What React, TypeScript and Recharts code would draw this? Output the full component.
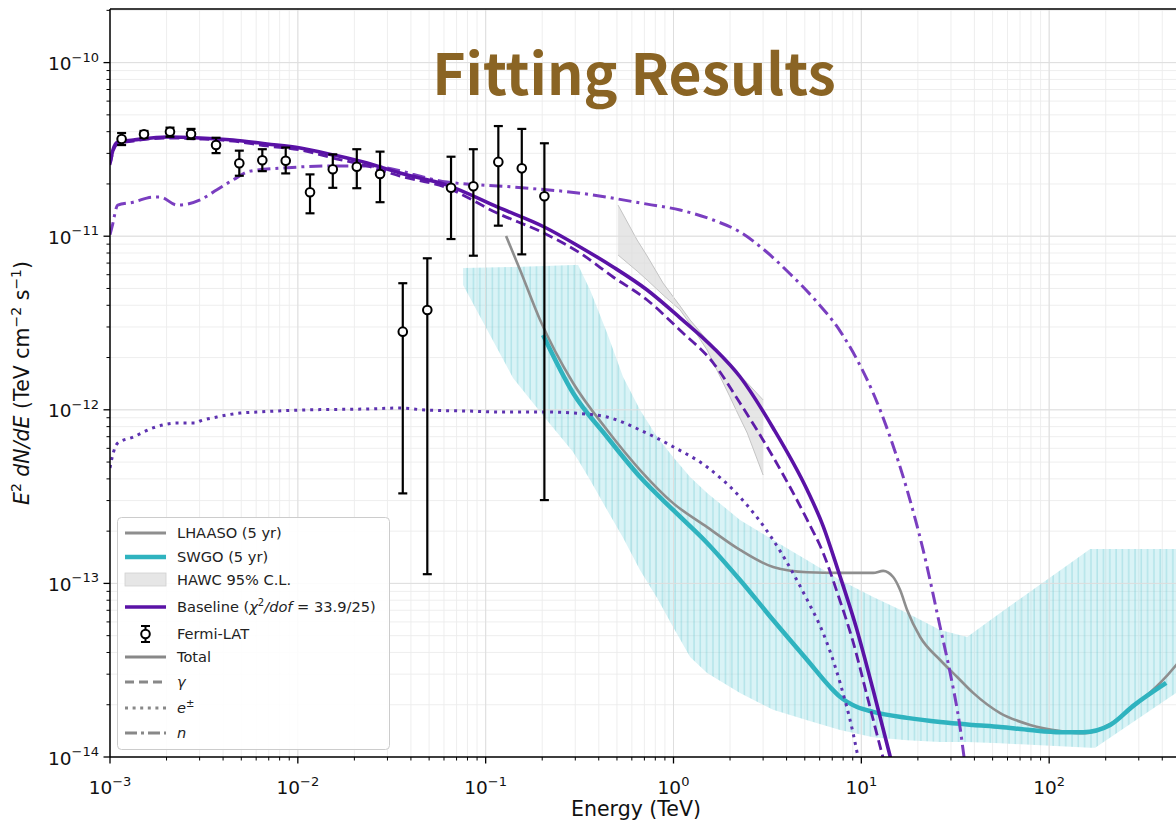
import React from 'react';
import {
  ComposedChart, Line, Area, Scatter, ErrorBar, XAxis, YAxis, CartesianGrid, ReferenceLine,
} from 'recharts';

// ---------- axis ranges ----------
const X_MIN = 1e-3;
const X_MAX = 1e3;
const Y_MIN = 1e-14;
const Y_MAX = 2.036e-10;

// ---------- Fermi-LAT points ----------
const fermiE = [1.153e-3, 1.517e-3, 2.086e-3, 2.70e-3, 3.67e-3, 4.88e-3, 6.47e-3, 8.62e-3, 1.161e-2, 1.535e-2, 2.06e-2, 2.74e-2, 3.62e-2, 4.89e-2, 6.54e-2, 8.60e-2, 0.1168, 0.1557, 0.2054];
const fermiF = [3.63e-11, 3.86e-11, 4.00e-11, 3.88e-11, 3.35e-11, 2.63e-11, 2.74e-11, 2.72e-11, 1.79e-11, 2.43e-11, 2.51e-11, 2.28e-11, 2.82e-12, 3.76e-12, 1.90e-11, 1.94e-11, 2.68e-11, 2.46e-11, 1.70e-11];
const fermiLo = [3.35e-11, 3.68e-11, 3.74e-11, 3.63e-11, 3.01e-11, 2.23e-11, 2.37e-11, 2.30e-11, 1.355e-11, 1.90e-11, 1.89e-11, 1.57e-11, 3.30e-13, 1.13e-13, 9.63e-12, 7.72e-12, 1.15e-11, 7.86e-12, 3.02e-13];
const fermiHi = [3.93e-11, 4.04e-11, 4.22e-11, 4.15e-11, 3.69e-11, 3.11e-11, 3.17e-11, 3.24e-11, 2.27e-11, 2.96e-11, 3.17e-11, 3.07e-11, 5.36e-12, 7.46e-12, 2.87e-11, 3.17e-11, 4.31e-11, 4.15e-11, 3.43e-11];

// ---------- Baseline model: Total ----------
const totalE = [1.0e-3, 1.037e-3, 1.10e-3, 1.33e-3, 2.01e-3, 3.02e-3, 4.52e-3, 6.85e-3, 1.03e-2, 1.54e-2, 2.34e-2, 3.50e-2, 6.23e-2, 0.116, 0.205, 0.318, 0.477, 0.724, 1.08, 1.63, 2.26, 3.39, 5.15, 6.26, 7.52, 9.38, 11.56, 14.23, 15.5];
const totalF = [2.64e-11, 3.14e-11, 3.49e-11, 3.58e-11, 3.73e-11, 3.68e-11, 3.58e-11, 3.40e-11, 3.22e-11, 2.94e-11, 2.64e-11, 2.31e-11, 1.97e-11, 1.47e-11, 1.13e-11, 8.67e-12, 6.65e-12, 4.90e-12, 3.40e-12, 2.28e-12, 1.55e-12, 7.86e-13, 3.45e-13, 2.14e-13, 1.19e-13, 5.61e-14, 2.43e-14, 1.01e-14, 7.0e-15];

// ---------- gamma ----------
const gammaE = [1.0e-3, 1.037e-3, 1.10e-3, 1.33e-3, 2.01e-3, 3.02e-3, 4.52e-3, 6.85e-3, 1.03e-2, 1.54e-2, 2.34e-2, 3.50e-2, 6.23e-2, 0.115, 0.205, 0.318, 0.477, 0.724, 1.08, 1.63, 2.26, 3.39, 5.15, 6.26, 7.52, 9.04, 10.87, 13.06, 14.5];
const gammaF = [2.57e-11, 3.05e-11, 3.40e-11, 3.53e-11, 3.68e-11, 3.63e-11, 3.53e-11, 3.31e-11, 3.14e-11, 2.82e-11, 2.54e-11, 2.22e-11, 1.90e-11, 1.36e-11, 1.04e-11, 8.00e-12, 5.82e-12, 4.29e-12, 2.88e-12, 1.86e-12, 1.094e-12, 5.35e-13, 2.32e-13, 1.50e-13, 8.57e-14, 4.60e-14, 2.13e-14, 9.87e-15, 6.5e-15];

// ---------- e+- ----------
const elecE = [1.0e-3, 1.025e-3, 1.10e-3, 1.33e-3, 1.69e-3, 2.28e-3, 2.84e-3, 3.02e-3, 3.71e-3, 4.92e-3, 6.06e-3, 1.03e-2, 2.34e-2, 3.50e-2, 4.76e-2, 7.96e-2, 0.119, 0.207, 0.292, 0.443, 0.664, 0.995, 1.51, 2.26, 3.39, 5.15, 6.26, 7.71, 9.04, 9.62, 10.1];
const elecF = [4.62e-13, 5.28e-13, 6.44e-13, 6.97e-13, 7.86e-13, 8.39e-13, 8.39e-13, 8.62e-13, 9.09e-13, 9.58e-13, 9.71e-13, 9.97e-13, 1.011e-12, 1.024e-12, 9.97e-13, 9.84e-13, 9.71e-13, 9.71e-13, 9.58e-13, 9.09e-13, 7.65e-13, 6.13e-13, 4.68e-13, 3.14e-13, 1.78e-13, 8.03e-14, 5.18e-14, 2.67e-14, 1.37e-14, 9.87e-15, 7.5e-15];

// ---------- n ----------
const neutE = [1.0e-3, 1.025e-3, 1.10e-3, 1.33e-3, 1.69e-3, 1.85e-3, 2.28e-3, 3.02e-3, 3.71e-3, 4.52e-3, 5.57e-3, 8.34e-3, 1.54e-2, 2.34e-2, 6.23e-2, 0.140, 0.318, 0.724, 1.084, 1.625, 2.26, 3.00, 4.18, 5.68, 7.71, 9.50, 11.56, 14.23, 17.53, 21.33, 26.28, 29.71, 33.58, 35.27, 36.6];
const neutF = [1.02e-11, 1.13e-11, 1.51e-11, 1.57e-11, 1.68e-11, 1.68e-11, 1.51e-11, 1.62e-11, 1.85e-11, 2.11e-11, 2.37e-11, 2.47e-11, 2.54e-11, 2.54e-11, 2.05e-11, 1.92e-11, 1.77e-11, 1.53e-11, 1.415e-11, 1.24e-11, 1.057e-11, 8.44e-12, 6.06e-12, 4.29e-12, 2.84e-12, 1.94e-12, 1.25e-12, 6.97e-13, 3.45e-13, 1.56e-13, 5.61e-14, 3.05e-14, 1.47e-14, 9.87e-15, 7.5e-15];

// ---------- LHAASO (5 yr) ----------
const lhaasoE = [0.1284, 0.1525, 0.1949, 0.292, 0.443, 0.664, 0.995, 1.51, 2.26, 3.39, 5.15, 7.71, 11.56, 13.06, 14.77, 16.09, 17.53, 20.56, 26.28, 32.37, 39.39, 54.83, 79.2, 114.5, 155.5, 211.3, 287.0, 390.0, 474.6, 599];
const lhaasoF = [1.003e-11, 6.39e-12, 3.29e-12, 1.427e-12, 7.65e-13, 4.50e-13, 2.90e-13, 2.11e-13, 1.56e-13, 1.243e-13, 1.16e-13, 1.15e-13, 1.15e-13, 1.18e-13, 1.089e-13, 9.16e-14, 7.03e-14, 4.91e-14, 3.62e-14, 2.89e-14, 2.34e-14, 1.79e-14, 1.53e-14, 1.41e-14, 1.37e-14, 1.55e-14, 1.99e-14, 2.67e-14, 3.39e-14, 4.72e-14];

// ---------- SWGO (5 yr) ----------
const swgoE = [0.2021, 0.292, 0.443, 0.664, 0.995, 1.51, 2.26, 3.39, 5.15, 6.82, 7.71, 9.50, 11.56, 17.53, 26.28, 39.39, 54.83, 79.2, 114.5, 151.7, 211.3, 280.2, 419.8];
const swgoF = [2.70e-12, 1.25e-12, 6.97e-13, 4.10e-13, 2.65e-13, 1.71e-13, 1.046e-13, 6.15e-14, 3.62e-14, 2.53e-14, 2.22e-14, 1.94e-14, 1.82e-14, 1.68e-14, 1.59e-14, 1.53e-14, 1.49e-14, 1.43e-14, 1.39e-14, 1.39e-14, 1.53e-14, 1.97e-14, 2.67e-14];

// ---------- hatched cyan band ----------
const bandE = [7.58e-2, 0.1399, 0.2072, 0.292, 0.3105, 0.3597, 0.443, 0.539, 0.664, 0.818, 0.995, 1.226, 1.51, 2.26, 3.39, 5.15, 7.71, 11.56, 17.53, 26.28, 36.60, 54.83, 165.3, 175.8, 474.6, 1000];
const bandHi = [6.56e-12, 6.65e-12, 6.74e-12, 6.82e-12, 6.82e-12, 4.90e-12, 2.77e-12, 1.545e-12, 9.97e-13, 6.97e-13, 5.35e-13, 4.10e-13, 3.32e-13, 2.32e-13, 1.78e-13, 1.36e-13, 1.046e-13, 8.35e-14, 6.75e-14, 5.39e-14, 4.91e-14, 6.75e-14, 1.58e-13, 1.58e-13, 1.58e-13, 1.58e-13];
const bandLo = [5.23e-12, 1.525e-12, 8.97e-13, 5.71e-13, 5.14e-13, 3.94e-13, 2.65e-13, 1.83e-13, 1.19e-13, 8.24e-14, 5.61e-14, 3.77e-14, 3.05e-14, 2.34e-14, 1.87e-14, 1.63e-14, 1.43e-14, 1.30e-14, 1.25e-14, 1.22e-14, 1.22e-14, 1.20e-14, 1.13e-14, 1.13e-14, 2.34e-14, 4.03e-14];

// ---------- HAWC 95% C.L. ----------
const hawcE = [0.507, 0.640, 0.724, 0.880, 1.084, 1.226, 1.51, 1.625, 2.00, 2.18, 2.47, 3.00];
const hawcHi = [1.51e-11, 9.51e-12, 7.69e-12, 5.37e-12, 3.96e-12, 3.29e-12, 2.52e-12, 2.30e-12, 1.81e-12, 1.63e-12, 1.43e-12, 1.14e-12];
const hawcLo = [7.79e-12, 6.30e-12, 5.59e-12, 4.59e-12, 3.76e-12, 3.12e-12, 2.21e-12, 1.88e-12, 1.185e-12, 9.71e-13, 7.35e-13, 4.21e-13];

// ---------- ticks ----------
const xDecades = [-3, -2, -1, 0, 1, 2];
const yDecades = [-14, -13, -12, -11];
const minorMult = [1, 2, 3, 4, 5, 6, 7, 8, 9];

const xTicks: number[] = [];
xDecades.forEach((d) => minorMult.forEach((k) => xTicks.push(k * Math.pow(10, d))));
xTicks.push(1e3);
const yTicks: number[] = [];
yDecades.forEach((d) => minorMult.forEach((k) => yTicks.push(k * Math.pow(10, d))));
yTicks.push(1e-10, 2e-10);

const xMajor = [1e-2, 1e-1, 1, 10, 100];
const yMajor = [1e-13, 1e-12, 1e-11, 1e-10];

// ---------- builders ----------
const zip = (xs: number[], ys: number[]) => xs.map((x, i) => ({ x, y: ys[i] }));
const zipRange = (xs: number[], lo: number[], hi: number[]) => xs.map((x, i) => ({ x, range: [lo[i], hi[i]] }));

const fermiData = fermiE.map((x, i) => ({ x, y: fermiF[i], err: [fermiF[i] - fermiLo[i], fermiHi[i] - fermiF[i]] }));
const totalData = zip(totalE, totalF);
const gammaData = zip(gammaE, gammaF);
const elecData = zip(elecE, elecF);
const neutData = zip(neutE, neutF);
const lhaasoData = zip(lhaasoE, lhaasoF);
const swgoData = zip(swgoE, swgoF);
const bandData = zipRange(bandE, bandLo, bandHi);
const hawcData = zipRange(hawcE, hawcLo, hawcHi);

const FONT = "'DejaVu Sans', 'Liberation Sans', sans-serif";
const MINUS = '\u2212';

const logExp = (v: number) => Math.round(Math.log10(v));
const isMajor = (v: number) => Math.abs(Math.log10(v) - Math.round(Math.log10(v))) < 1e-6;
const expText = (e: number) => (e < 0 ? MINUS + Math.abs(e) : String(e));

const C_TOTAL = '#5a12a6';
const C_GAMMA = '#5e1ca8';
const C_ELEC = '#5d32b0';
const C_NEUT = '#7a3ec0';
const C_LHAASO = '#8e8e8e';
const C_SWGO = '#2fb3bf';

function XTick(props: any) {
  const { x, y, payload } = props;
  const v = payload.value;
  const major = isMajor(v);
  return (
    <g>
      <line x1={x} y1={y} x2={x} y2={y + (major ? 6.5 : 3.5)} stroke="#000" strokeWidth={major ? 1.3 : 1} />
      {major && v < 500 && (
        <text x={x} y={y + 37} textAnchor="middle" fontFamily={FONT} fontSize={18.5} fill="#111">
          <tspan>10</tspan>
          <tspan dy={-8.5} fontSize={13}>{expText(logExp(v))}</tspan>
        </text>
      )}
    </g>
  );
}

function YTick(props: any) {
  const { x, y, payload } = props;
  const v = payload.value;
  const major = isMajor(v);
  return (
    <g>
      <line x1={x} y1={y} x2={x - (major ? 6.5 : 3.5)} y2={y} stroke="#000" strokeWidth={major ? 1.3 : 1} />
      {major && (
        <text x={x - 11} y={y + 7.5} textAnchor="end" fontFamily={FONT} fontSize={18.5} fill="#111">
          <tspan>10</tspan>
          <tspan dy={-8.5} fontSize={13}>{expText(logExp(v))}</tspan>
        </text>
      )}
    </g>
  );
}

const FermiPoint = (props: any) => {
  const { cx, cy } = props;
  if (cx == null || cy == null) return <g />;
  return <circle cx={cx} cy={cy} r={4.3} fill="#fff" stroke="#000" strokeWidth={2} />;
};
const EmptyShape = () => <g />;

function Legend() {
  const x0 = 125;
  const x1 = 166;
  const tx = 177;
  const fs = 14.6;
  const rows = [533, 557, 580, 607, 634, 657, 682, 708, 733];
  const txt = (i: number, children: React.ReactNode) => (
    <text x={tx} y={rows[i] + 5} fontFamily={FONT} fontSize={fs} fill="#222">{children}</text>
  );
  return (
    <g>
      <rect x={117.5} y={517.5} width={272} height={232} rx={4} fill="#fff" fillOpacity={0.88} stroke="#cccccc" strokeWidth={1} />
      <line x1={x0} x2={x1} y1={rows[0]} y2={rows[0]} stroke={C_LHAASO} strokeWidth={2.8} />
      {txt(0, 'LHAASO (5 yr)')}
      <line x1={x0} x2={x1} y1={rows[1]} y2={rows[1]} stroke={C_SWGO} strokeWidth={4.5} />
      {txt(1, 'SWGO (5 yr)')}
      <rect x={x0} y={rows[2] - 7} width={x1 - x0} height={13} fill="#e6e6e6" stroke="#d0d0d0" strokeWidth={0.8} />
      {txt(2, 'HAWC 95% C.L.')}
      <line x1={x0} x2={x1} y1={rows[3]} y2={rows[3]} stroke={C_TOTAL} strokeWidth={3.5} />
      {txt(3, (
        <>
          <tspan>Baseline (</tspan>
          <tspan fontStyle="italic">χ</tspan>
          <tspan dy={-6} fontSize={10}>2</tspan>
          <tspan dy={6} fontStyle="italic">/dof</tspan>
          <tspan> = 33.9/25)</tspan>
        </>
      ))}
      <g>
        <line x1={145.5} x2={145.5} y1={rows[4] - 8} y2={rows[4] + 8} stroke="#000" strokeWidth={2} />
        <line x1={141} x2={150} y1={rows[4] - 8} y2={rows[4] - 8} stroke="#000" strokeWidth={2} />
        <line x1={141} x2={150} y1={rows[4] + 8} y2={rows[4] + 8} stroke="#000" strokeWidth={2} />
        <circle cx={145.5} cy={rows[4]} r={4.3} fill="#fff" stroke="#000" strokeWidth={2} />
      </g>
      {txt(4, 'Fermi-LAT')}
      <line x1={x0} x2={x1} y1={rows[5]} y2={rows[5]} stroke="#888" strokeWidth={3.2} />
      {txt(5, 'Total')}
      <line x1={x0} x2={x1} y1={rows[6]} y2={rows[6]} stroke="#888" strokeWidth={2.8} strokeDasharray="9 5" />
      {txt(6, <tspan fontStyle="italic">γ</tspan>)}
      <line x1={x0} x2={x1} y1={rows[7]} y2={rows[7]} stroke="#888" strokeWidth={2.8} strokeDasharray="3 4.6" />
      {txt(7, (
        <>
          <tspan fontStyle="italic">e</tspan>
          <tspan dy={-6} fontSize={10}>±</tspan>
        </>
      ))}
      <line x1={x0} x2={x1} y1={rows[8]} y2={rows[8]} stroke="#888" strokeWidth={2.8} strokeDasharray="12 4 3 4" />
      {txt(8, <tspan fontStyle="italic">n</tspan>)}
    </g>
  );
}

export default function App() {
  return (
    <div style={{ position: 'absolute', left: 0, top: 0, width: 1176, height: 820, overflow: 'hidden', background: '#fff' }}>
      <ComposedChart width={1237} height={820} margin={{ top: 9, right: 0, bottom: 0, left: 0 }}>
        <defs>
          <pattern id="vhatch" patternUnits="userSpaceOnUse" width={6.3} height={12}>
            <rect x={0} y={0} width={6.3} height={12} fill="rgba(150,222,230,0.36)" />
            <line x1={1} y1={0} x2={1} y2={12} stroke="rgba(95,195,205,0.38)" strokeWidth={1.2} />
          </pattern>
        </defs>
        <CartesianGrid stroke="#ececec" strokeWidth={0.9} />
        {xMajor.map((v) => (
          <ReferenceLine key={'gx' + v} x={v} stroke="#dedede" strokeWidth={1} />
        ))}
        {yMajor.map((v) => (
          <ReferenceLine key={'gy' + v} y={v} stroke="#dedede" strokeWidth={1} />
        ))}
        <XAxis
          dataKey="x"
          type="number"
          scale="log"
          domain={[X_MIN, X_MAX]}
          allowDataOverflow
          ticks={xTicks}
          interval={0}
          tick={XTick}
          tickLine={false}
          tickSize={0}
          tickMargin={0}
          height={63}
          axisLine={{ stroke: '#000', strokeWidth: 1.5 }}
        />
        <YAxis
          type="number"
          scale="log"
          domain={[Y_MIN, Y_MAX]}
          allowDataOverflow
          ticks={yTicks}
          interval={0}
          tick={YTick}
          tickLine={false}
          tickSize={0}
          tickMargin={0}
          width={110}
          axisLine={{ stroke: '#000', strokeWidth: 1.5 }}
        />
        <Area data={bandData} dataKey="range" type="linear" fill="url(#vhatch)" fillOpacity={1} stroke="none" isAnimationActive={false} />
        <Area data={hawcData} dataKey="range" type="linear" fill="#dcdcdc" fillOpacity={0.7} stroke="#c4c4c4" strokeWidth={1} isAnimationActive={false} />
        <Line data={lhaasoData} dataKey="y" type="monotone" stroke={C_LHAASO} strokeWidth={2.6} dot={false} isAnimationActive={false} />
        <Line data={swgoData} dataKey="y" type="monotone" stroke={C_SWGO} strokeWidth={4.5} dot={false} isAnimationActive={false} />
        <Line data={neutData} dataKey="y" type="monotone" stroke={C_NEUT} strokeWidth={3} strokeDasharray="13 5 3 5" dot={false} isAnimationActive={false} />
        <Line data={elecData} dataKey="y" type="monotone" stroke={C_ELEC} strokeWidth={3} strokeDasharray="3 5" dot={false} isAnimationActive={false} />
        <Line data={gammaData} dataKey="y" type="monotone" stroke={C_GAMMA} strokeWidth={2.8} strokeDasharray="10 5" dot={false} isAnimationActive={false} />
        <Line data={totalData} dataKey="y" type="monotone" stroke={C_TOTAL} strokeWidth={3.6} dot={false} isAnimationActive={false} />
        <Scatter data={fermiData} dataKey="y" shape={EmptyShape} isAnimationActive={false}>
          <ErrorBar dataKey="err" direction="y" width={4.5} stroke="#000" strokeWidth={2.2} />
        </Scatter>
        <Scatter data={fermiData} dataKey="y" shape={FermiPoint} isAnimationActive={false} />
        <ReferenceLine y={Y_MAX} stroke="#000" strokeWidth={1.6} ifOverflow="visible" />
      </ComposedChart>
      <svg width={1176} height={820} style={{ position: 'absolute', left: 0, top: 0, pointerEvents: 'none' }}>
        <text x={634} y={95} textAnchor="middle" fontFamily="'Noto Sans CJK SC', 'Noto Sans', sans-serif" fontWeight={700} fontSize={57} fill="#8a6424">
          Fitting Results
        </text>
        <text x={636} y={816} textAnchor="middle" fontFamily={FONT} fontSize={20.5} fill="#111">Energy (TeV)</text>
        <text transform="translate(29,383) rotate(-90)" textAnchor="middle" fontFamily={FONT} fontSize={20.5} fill="#111">
          <tspan fontStyle="italic">E</tspan>
          <tspan dy={-8} fontSize={14}>2</tspan>
          <tspan dy={8} fontStyle="italic"> dN/dE</tspan>
          <tspan> (TeV cm</tspan>
          <tspan dy={-8} fontSize={14}>{MINUS}2</tspan>
          <tspan dy={8}> s</tspan>
          <tspan dy={-8} fontSize={14}>{MINUS}1</tspan>
          <tspan dy={8}>)</tspan>
        </text>
        <Legend />
      </svg>
    </div>
  );
}
